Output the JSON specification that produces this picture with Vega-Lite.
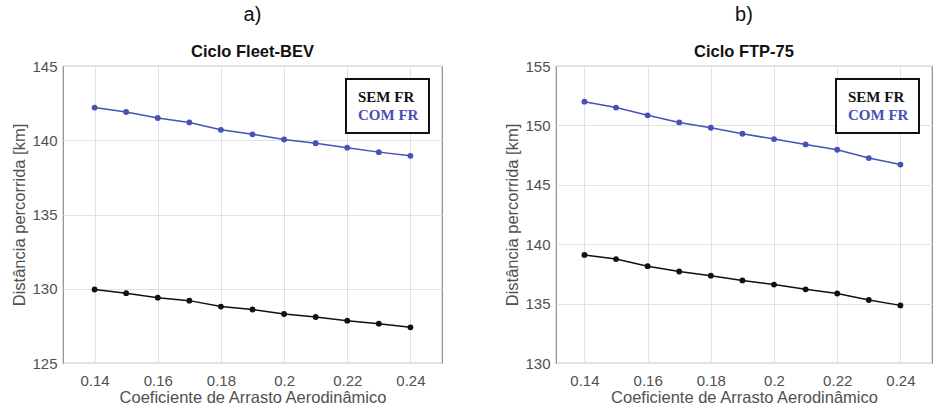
{
  "$schema": "https://vega.github.io/schema/vega-lite/v6.json",
  "background": "white",
  "padding": {"left": 11, "right": 3, "top": 4, "bottom": 0},
  "datasets": {
    "fleet": [
      {"cd": 0.14, "dist": 142.2, "serie": "COM FR"},
      {"cd": 0.15, "dist": 141.9, "serie": "COM FR"},
      {"cd": 0.16, "dist": 141.5, "serie": "COM FR"},
      {"cd": 0.17, "dist": 141.2, "serie": "COM FR"},
      {"cd": 0.18, "dist": 140.7, "serie": "COM FR"},
      {"cd": 0.19, "dist": 140.4, "serie": "COM FR"},
      {"cd": 0.20, "dist": 140.05, "serie": "COM FR"},
      {"cd": 0.21, "dist": 139.8, "serie": "COM FR"},
      {"cd": 0.22, "dist": 139.5, "serie": "COM FR"},
      {"cd": 0.23, "dist": 139.2, "serie": "COM FR"},
      {"cd": 0.24, "dist": 138.95, "serie": "COM FR"},
      {"cd": 0.14, "dist": 129.95, "serie": "SEM FR"},
      {"cd": 0.15, "dist": 129.7, "serie": "SEM FR"},
      {"cd": 0.16, "dist": 129.4, "serie": "SEM FR"},
      {"cd": 0.17, "dist": 129.2, "serie": "SEM FR"},
      {"cd": 0.18, "dist": 128.8, "serie": "SEM FR"},
      {"cd": 0.19, "dist": 128.6, "serie": "SEM FR"},
      {"cd": 0.20, "dist": 128.3, "serie": "SEM FR"},
      {"cd": 0.21, "dist": 128.1, "serie": "SEM FR"},
      {"cd": 0.22, "dist": 127.85, "serie": "SEM FR"},
      {"cd": 0.23, "dist": 127.65, "serie": "SEM FR"},
      {"cd": 0.24, "dist": 127.4, "serie": "SEM FR"}
    ],
    "ftp": [
      {"cd": 0.14, "dist": 152.0, "serie": "COM FR"},
      {"cd": 0.15, "dist": 151.5, "serie": "COM FR"},
      {"cd": 0.16, "dist": 150.85, "serie": "COM FR"},
      {"cd": 0.17, "dist": 150.25, "serie": "COM FR"},
      {"cd": 0.18, "dist": 149.8, "serie": "COM FR"},
      {"cd": 0.19, "dist": 149.3, "serie": "COM FR"},
      {"cd": 0.20, "dist": 148.85, "serie": "COM FR"},
      {"cd": 0.21, "dist": 148.4, "serie": "COM FR"},
      {"cd": 0.22, "dist": 147.95, "serie": "COM FR"},
      {"cd": 0.23, "dist": 147.25, "serie": "COM FR"},
      {"cd": 0.24, "dist": 146.7, "serie": "COM FR"},
      {"cd": 0.14, "dist": 139.1, "serie": "SEM FR"},
      {"cd": 0.15, "dist": 138.75, "serie": "SEM FR"},
      {"cd": 0.16, "dist": 138.15, "serie": "SEM FR"},
      {"cd": 0.17, "dist": 137.7, "serie": "SEM FR"},
      {"cd": 0.18, "dist": 137.35, "serie": "SEM FR"},
      {"cd": 0.19, "dist": 136.95, "serie": "SEM FR"},
      {"cd": 0.20, "dist": 136.6, "serie": "SEM FR"},
      {"cd": 0.21, "dist": 136.2, "serie": "SEM FR"},
      {"cd": 0.22, "dist": 135.85, "serie": "SEM FR"},
      {"cd": 0.23, "dist": 135.3, "serie": "SEM FR"},
      {"cd": 0.24, "dist": 134.85, "serie": "SEM FR"}
    ]
  },
  "hconcat": [
    {
      "width": 379,
      "height": 297,
      "data": {"name": "fleet"},
      "title": {"text": "a)", "subtitle": "Ciclo Fleet-BEV"},
      "mark": {"type": "line", "strokeWidth": 1.5, "point": {"filled": true, "size": 34, "opacity": 1}},
      "encoding": {
        "x": {"field": "cd", "type": "quantitative", "title": "Coeficiente de Arrasto Aerodinâmico",
              "scale": {"domain": [0.13, 0.25], "nice": false, "zero": false},
              "axis": {"values": [0.14, 0.16, 0.18, 0.2, 0.22, 0.24], "format": ".2~f"}},
        "y": {"field": "dist", "type": "quantitative", "title": "Distância percorrida [km]",
              "scale": {"domain": [125, 145], "nice": false, "zero": false},
              "axis": {"values": [125, 130, 135, 140, 145]}},
        "color": {"field": "serie", "type": "nominal",
                  "scale": {"domain": ["SEM FR", "COM FR"], "range": ["#111111", "#4652b8"]}}
      }
    },
    {
      "width": 376,
      "height": 297,
      "data": {"name": "ftp"},
      "title": {"text": "b)", "subtitle": "Ciclo FTP-75"},
      "mark": {"type": "line", "strokeWidth": 1.5, "point": {"filled": true, "size": 34, "opacity": 1}},
      "encoding": {
        "x": {"field": "cd", "type": "quantitative", "title": "Coeficiente de Arrasto Aerodinâmico",
              "scale": {"domain": [0.131, 0.25], "nice": false, "zero": false},
              "axis": {"values": [0.14, 0.16, 0.18, 0.2, 0.22, 0.24], "format": ".2~f"}},
        "y": {"field": "dist", "type": "quantitative", "title": "Distância percorrida [km]",
              "scale": {"domain": [130, 155], "nice": false, "zero": false},
              "axis": {"values": [130, 135, 140, 145, 150, 155]}},
        "color": {"field": "serie", "type": "nominal",
                  "scale": {"domain": ["SEM FR", "COM FR"], "range": ["#111111", "#4652b8"]}}
      }
    }
  ],
  "spacing": 61,
  "resolve": {"scale": {"color": "independent", "x": "independent", "y": "independent"}, "legend": {"color": "independent"}, "axis": {"y": "independent"}},
  "config": {
    "view": {"stroke": "#8c8c8c", "strokeWidth": 1.2},
    "title": {"font": "Liberation Sans", "fontSize": 20, "fontWeight": "normal", "color": "#111",
              "subtitleFont": "Liberation Sans", "subtitleFontSize": 16.5, "subtitleFontWeight": "bold",
              "subtitleColor": "#111", "subtitlePadding": 19, "offset": -1.5, "anchor": "middle"},
    "axis": {"domain": false, "grid": true, "gridColor": "#e2e2e2", "ticks": false,
             "labelFont": "Liberation Sans", "labelFontSize": 15, "labelColor": "#505050",
             "titleFont": "Liberation Sans", "titleFontSize": 16.5, "titleColor": "#505050", "titleFontWeight": "normal"},
    "axisX": {"labelPadding": 10, "titlePadding": 1},
    "axisY": {"labelPadding": 6, "titlePadding": 4},
    "legend": {"orient": "top-right", "offset": 13, "title": null, "strokeColor": "#111", "strokeWidth": 2,
               "fillColor": "white", "padding": 10, "symbolOpacity": 0, "symbolSize": 0, "symbolStrokeWidth": 0,
               "labelOffset": -13, "labelAlign": "left", "labelFont": "Liberation Serif", "labelFontSize": 15, "labelFontWeight": "bold",
               "rowPadding": 2,
               "labelColor": {"expr": "datum.value === 'COM FR' ? '#4a4db5' : '#111111'"}}
  }
}
